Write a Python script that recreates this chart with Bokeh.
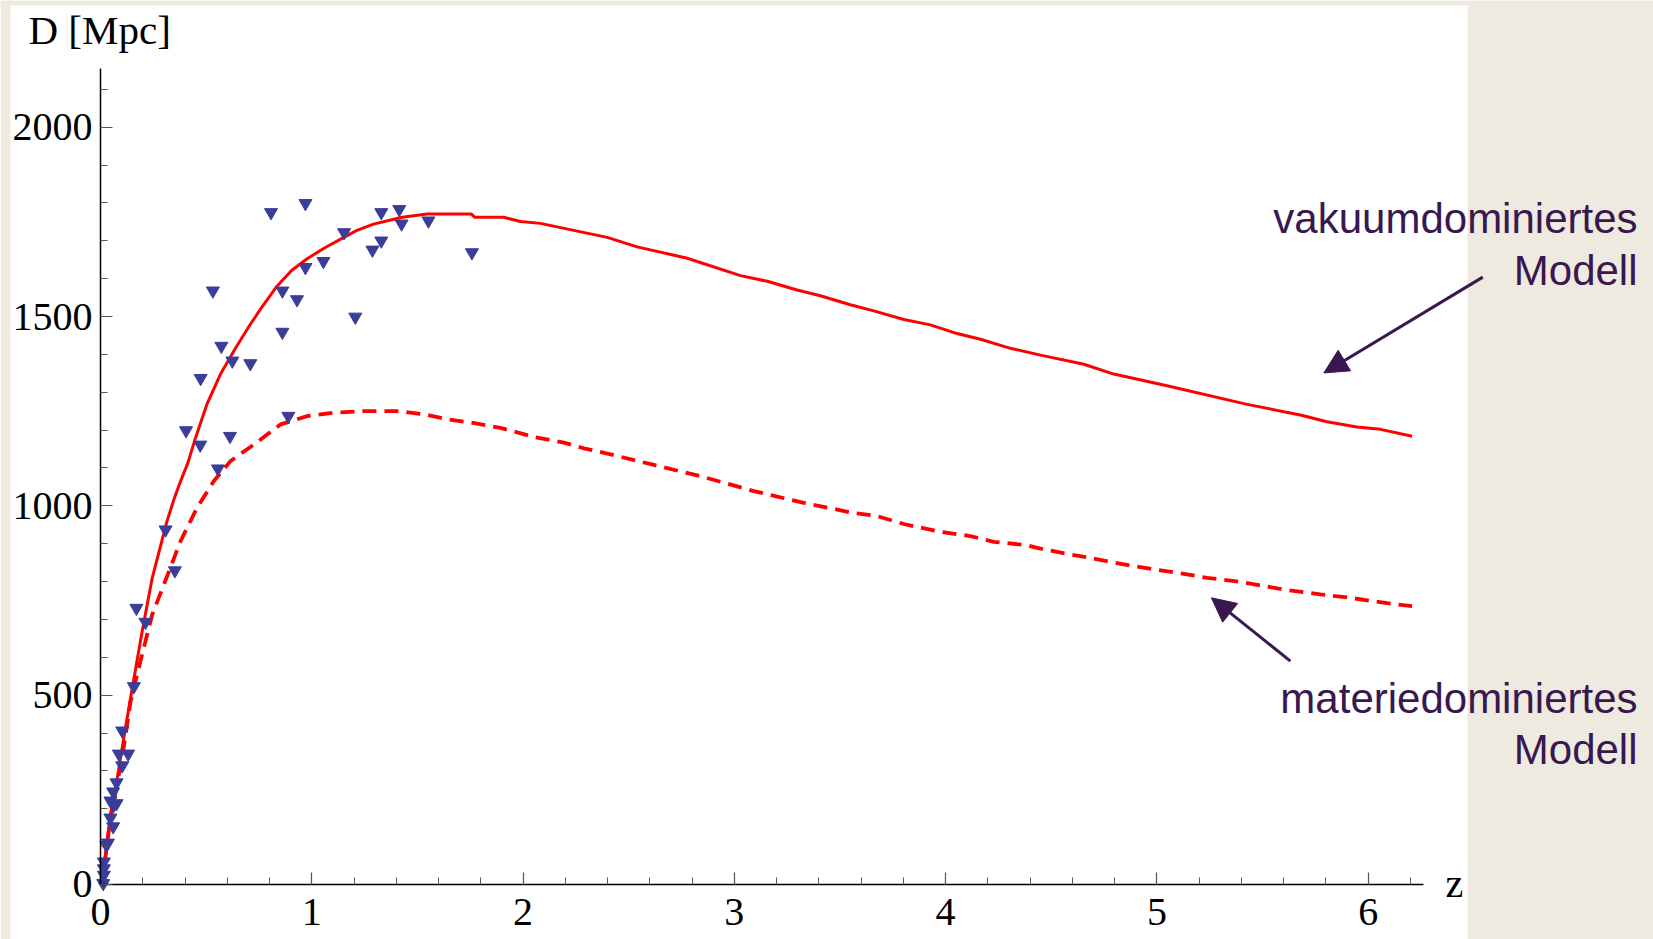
from bokeh.plotting import figure
from bokeh.models import (Range1d, SingleIntervalTicker, Label, Arrow, NormalHead,
                          BoxAnnotation)
from bokeh.embed import file_html
from bokeh.resources import INLINE

# ---- data ----
vac_z = [0, 0.024, 0.047, 0.079, 0.110, 0.142, 0.197, 0.245, 0.315, 0.350, 0.379, 0.414,
         0.450, 0.505, 0.568, 0.641, 0.704, 0.758, 0.831, 0.903, 0.976, 1.066, 1.139, 1.211,
         1.292, 1.374, 1.428, 1.546, 1.754, 1.772, 1.908, 1.988, 2.082, 2.398, 2.540, 2.777,
         3.029, 3.156, 3.297, 3.407, 3.549, 3.660, 3.802, 3.928, 4.054, 4.165, 4.307, 4.449,
         4.654, 4.796, 5.048, 5.427, 5.679, 5.805, 5.947, 6.058, 6.208]
vac_D = [0, 78, 184, 280, 386, 492, 668, 810, 960, 1021, 1065, 1114,
         1180, 1270, 1348, 1418, 1475, 1520, 1577, 1621, 1652, 1683, 1705, 1727,
         1744, 1755, 1762, 1771, 1771, 1762, 1762, 1751, 1746, 1709, 1684, 1654,
         1608, 1593, 1570, 1555, 1531, 1515, 1492, 1478, 1455, 1440, 1416, 1398,
         1374, 1348, 1317, 1268, 1240, 1222, 1208, 1202, 1184]

mat_z = [0, 0.024, 0.047, 0.079, 0.110, 0.142, 0.189, 0.245, 0.300, 0.379, 0.457, 0.536,
         0.615, 0.726, 0.852, 0.978, 1.104, 1.246, 1.404, 1.530, 1.640, 1.751, 1.893, 2.051,
         2.193, 2.287, 2.414, 2.619, 2.855, 3.092, 3.329, 3.565, 3.676, 3.802, 3.960, 4.117,
         4.228, 4.386, 4.433, 4.575, 4.669, 4.875, 5.096, 5.237, 5.395, 5.600, 5.774, 5.916,
         6.089, 6.208]
mat_D = [0, 75, 175, 265, 362, 482, 590, 713, 792, 907, 995, 1065,
         1118, 1162, 1215, 1237, 1246, 1250, 1250, 1242, 1229, 1220, 1206, 1182,
         1167, 1152, 1136, 1108, 1076, 1039, 1008, 981, 973, 952, 933, 920,
         905, 896, 889, 873, 864, 842, 823, 810, 799, 779, 766, 757,
         743, 735]

obs_z = [0.807, 0.970, 1.329, 1.414, 1.425, 1.552, 1.153, 1.329, 1.287, 1.758, 1.055, 0.970,
         0.532, 0.861, 0.930, 1.206, 0.861, 0.572, 0.624, 0.709, 0.474, 0.405, 0.472, 0.613,
         0.556, 0.889, 0.308, 0.352, 0.170, 0.213, 0.158, 0.103, 0.087, 0.131, 0.103, 0.076,
         0.060, 0.047, 0.076, 0.063, 0.047, 0.060, 0.035, 0.028, 0.016, 0.016, 0.016, 0.013]
obs_D = [1775, 1799, 1775, 1783, 1745, 1753, 1722, 1700, 1676, 1669, 1646, 1630,
         1568, 1568, 1545, 1499, 1459, 1422, 1383, 1376, 1337, 1199, 1161, 1184,
         1098, 1237, 937, 829, 730, 693, 523, 406, 345, 345, 314, 269,
         245, 221, 214, 210, 176, 153, 110, 104, 60, 42, 25, 3]

label_vac = ["vakuumdominiertes", "Modell"]
label_mat = ["materiedominiertes", "Modell"]

BEIGE = "#EEEADF"
PURPLE = "#38184F"
RED = "#FF0000"
SERIF = "Liberation Serif"
SANS = "Liberation Sans"

# frame covers the whole canvas; axes are placed at data 0 with fixed_location
p = figure(width=1653, height=939, output_backend="svg", toolbar_location=None,
           x_range=Range1d(-0.4733, 7.3504), y_range=Range1d(-145.3, 2334.6),
           min_border_left=0, min_border_right=0, min_border_top=0, min_border_bottom=0)
p.background_fill_color = "white"
p.border_fill_color = "white"
p.outline_line_color = None
p.grid.visible = False

# beige slide surround
for kw in (dict(left=6.470), dict(right=-0.426), dict(bottom=2321.4)):
    p.add_layout(BoxAnnotation(fill_color=BEIGE, fill_alpha=1.0, line_color=None,
                               level="underlay", **kw))

# axes
xa = p.xaxis[0]
xa.ticker = SingleIntervalTicker(interval=1, num_minor_ticks=5)
xa.bounds = (0, 6.26)
xa.fixed_location = 0
ya = p.yaxis[0]
ya.ticker = SingleIntervalTicker(interval=500, num_minor_ticks=5)
ya.bounds = (0, 2155)
ya.fixed_location = 0
for ax, st in ((xa, 15), (ya, 8)):
    ax.axis_line_color = "black"
    ax.axis_line_width = 1.5
    ax.major_tick_in = 12
    ax.major_tick_out = 0
    ax.minor_tick_in = 7
    ax.minor_tick_out = 0
    ax.major_tick_line_color = "#555555"
    ax.minor_tick_line_color = "#555555"
    ax.major_tick_line_width = 1.2
    ax.minor_tick_line_width = 1
    ax.major_label_text_font = SERIF
    ax.major_label_text_font_size = "40px"
    ax.major_label_text_color = "black"
    ax.major_label_standoff = st

# curves and observations
p.line(vac_z, vac_D, line_color=RED, line_width=3)
p.line(mat_z, mat_D, line_color=RED, line_width=3.8, line_dash="14 8")
p.scatter(obs_z, obs_D, marker="inverted_triangle", size=13,
          fill_color="#3A3D99", line_color="#3A3D99")

# axis titles
p.add_layout(Label(x=-0.3408, y=2258, text="D [Mpc]", text_font=SERIF, text_font_size="41px",
                   text_color="black", text_align="left", text_baseline="alphabetic"))
p.add_layout(Label(x=6.366, y=3, text="z", text_font=SERIF, text_font_size="40px",
                   text_color="black", text_align="left", text_baseline="alphabetic"))

# annotations
for txt, yy in zip(label_vac, [1759, 1622]):
    p.add_layout(Label(x=7.2747, y=yy, text=txt, text_font=SANS, text_font_size="42px",
                       text_color=PURPLE, text_align="right", text_baseline="alphabetic"))
for txt, yy in zip(label_mat, [491, 357]):
    p.add_layout(Label(x=7.2747, y=yy, text=txt, text_font=SANS, text_font_size="42px",
                       text_color=PURPLE, text_align="right", text_baseline="alphabetic"))

p.add_layout(Arrow(end=NormalHead(size=24, fill_color=PURPLE, line_color=PURPLE),
                   x_start=6.5425, y_start=1604, x_end=5.790, y_end=1351,
                   line_color=PURPLE, line_width=3))
p.add_layout(Arrow(end=NormalHead(size=24, fill_color=PURPLE, line_color=PURPLE),
                   x_start=5.632, y_start=590, x_end=5.258, y_end=757,
                   line_color=PURPLE, line_width=3))

open("out.html", "w").write(file_html(p, INLINE))
